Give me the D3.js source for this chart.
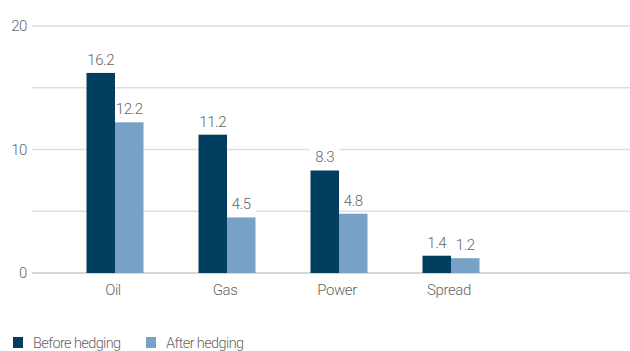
<!DOCTYPE html>
<html>
<head>
<meta charset="utf-8">
<script src="https://cdn.jsdelivr.net/npm/d3@7"></script>
<style>
  body { margin: 0; background: #fff; }
  text { font-family: "Roboto", sans-serif; font-weight: 300; fill: #666; letter-spacing: -0.4px; }
</style>
</head>
<body>
<svg id="chart"></svg>
<script>
"use strict";
const categories = ["Oil", "Gas", "Power", "Spread"];
const series = ["Before hedging", "After hedging"];
const beforeHedging = [16.2, 11.2, 8.3, 1.4];
const afterHedging = [12.2, 4.5, 4.8, 1.2];
const yTicks = [0, 10, 20];
const gridTicks = [0, 5, 10, 15, 20];

const colors = ["#023e60", "#77a2c5"];
const W = 630, H = 351;

const svg = d3.select("#chart").attr("width", W).attr("height", H);

const x = d3.scaleBand().domain(categories).range([59, 507]).paddingInner(0).paddingOuter(0);
const sub = d3.scaleBand().domain(series).range([x.bandwidth() / 2 - 28.5, x.bandwidth() / 2 + 28.5]);
const y = d3.scaleLinear().domain([0, 20]).range([273, 26]);

// gridlines
svg.append("g")
    .selectAll("line")
    .data(gridTicks)
  .enter().append("line")
    .attr("x1", 32).attr("x2", W)
    .attr("y1", d => y(d)).attr("y2", d => y(d))
    .attr("stroke", d => d === 0 ? "#cacaca" : "#dedede")
    .attr("stroke-width", 1.3);

// y axis labels
svg.append("g")
    .selectAll("text")
    .data(yTicks)
  .enter().append("text")
    .attr("x", 27)
    .attr("y", d => y(d) + 5)
    .attr("text-anchor", "end")
    .style("font-size", "15px")
    .text(d => d);

const rows = categories.map((c, i) => ({cat: c, values: [beforeHedging[i], afterHedging[i]]}));

const groups = svg.append("g")
    .selectAll("g")
    .data(rows)
  .enter().append("g")
    .attr("transform", d => "translate(" + x(d.cat) + ",0)");

// label backgrounds first (they mask gridlines only), then bars on top
const labelData = d => d.values.map((v, j) => ({s: series[j], v: v, j: j}));

groups.selectAll("rect.bg")
    .data(labelData)
  .enter().append("rect")
    .attr("class", "bg")
    .attr("x", d => sub(d.s) + sub.bandwidth() / 2 - 15)
    .attr("width", 30)
    .attr("y", d => y(d.v) - 25)
    .attr("height", 21)
    .attr("fill", "#fff");

groups.selectAll("rect.bar")
    .data(labelData)
  .enter().append("rect")
    .attr("class", "bar")
    .attr("x", d => sub(d.s))
    .attr("width", sub.bandwidth())
    .attr("y", d => y(d.v))
    .attr("height", d => y(0) - y(d.v))
    .attr("fill", d => colors[d.j]);

groups.selectAll("text.val")
    .data(labelData)
  .enter().append("text")
    .attr("class", "val")
    .attr("x", d => sub(d.s) + sub.bandwidth() / 2)
    .attr("y", d => y(d.v) - 8)
    .attr("text-anchor", "middle")
    .style("font-size", "15px")
    .text(d => d.v.toFixed(1));

// category labels
svg.append("g")
    .selectAll("text")
    .data(categories)
  .enter().append("text")
    .attr("x", d => x(d) + x.bandwidth() / 2 - 2)
    .attr("y", 295)
    .attr("text-anchor", "middle")
    .style("font-size", "15px")
    .text(d => d);

// legend
const legendX = [13, 146];
const legend = svg.append("g")
    .selectAll("g")
    .data(series)
  .enter().append("g")
    .attr("transform", (d, i) => "translate(" + legendX[i] + ",337)");
legend.append("rect")
    .attr("width", 10).attr("height", 11)
    .attr("fill", (d, i) => colors[i]);
legend.append("text")
    .attr("x", 20).attr("y", 11)
    .style("font-size", "14.5px")
    .style("letter-spacing", "-0.6px")
    .text(d => d);
</script>
</body>
</html>
